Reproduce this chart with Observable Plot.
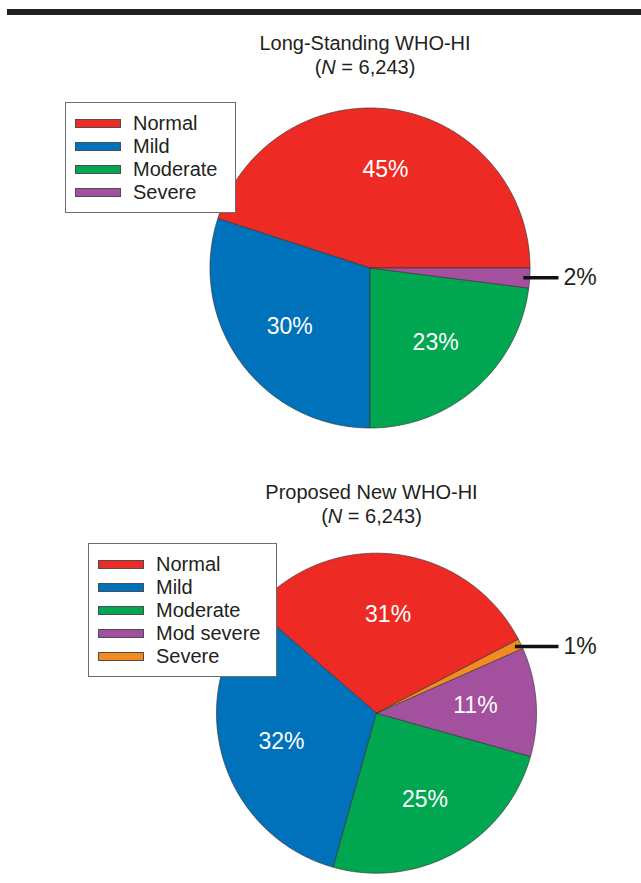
<!DOCTYPE html>
<html><head><meta charset="utf-8">
<script src="https://cdn.jsdelivr.net/npm/d3@7"></script>
<script src="https://cdn.jsdelivr.net/npm/@observablehq/plot@0.6"></script>
<style>
body{margin:0;background:#fff;font-family:"Liberation Sans",Arial,Helvetica,sans-serif;color:#231f20}
#page{position:relative;width:641px;height:883px;overflow:hidden}
.rule{position:absolute;left:7px;top:9px;width:634px;height:6px;background:#231f20}
.title{position:absolute;width:320px;text-align:center;font-size:20px;line-height:24px;white-space:nowrap}
.chart{position:absolute;left:0}
.legend{position:absolute;background:#fff;border:1px solid #6d6e71;box-sizing:border-box;padding:9px 0 0 9px}
.legend .row{display:flex;align-items:center;height:23px;font-size:20px;line-height:23px;white-space:nowrap}
.legend .sw{width:46px;height:9px;box-sizing:border-box;border:1px solid #4d4d4f;margin-right:12px;flex:none}
</style></head><body><div id="page"><div class="rule"></div></div>
<script>
// ---- data ----
const sampleSize = "6,243";
const title1 = "Long-Standing WHO-HI";
const categories1 = ["Normal", "Mild", "Moderate", "Severe"];
const values1 = [45, 30, 23, 2];
const colors1 = ["#ed2a24", "#0071bb", "#00a650", "#a3519f"];

const title2 = "Proposed New WHO-HI";
const categories2 = ["Normal", "Mild", "Moderate", "Mod severe", "Severe"];
const values2 = [31, 32, 25, 11, 1];
const colors2 = ["#ed2a24", "#0071bb", "#00a650", "#a3519f", "#f58a23"];

// ---- layout ----
const R = 160;
const LEADER_END = 558; // page x where the callout leader line ends
const page = document.getElementById("page");
const FONT = '"Liberation Sans", Arial, Helvetica, sans-serif';

function makePie(cfg) {
  const {title, categories, values, colors, top, H, cx, cy, startDeg, legend, titleX, titleTop} = cfg;
  const rows = categories.map((c, i) => ({category: c, value: values[i]}));
  const a0 = Math.PI / 2 - startDeg * Math.PI / 180;
  const arcs = d3.pie().sort(null).value(d => d.value).startAngle(a0).endAngle(a0 - 2 * Math.PI)(rows);
  const xEnd = (LEADER_END - cx) / R;

  const poly = [];
  const inside = [];
  const outside = [];
  arcs.forEach(a => {
    const t0 = Math.PI / 2 - a.startAngle, t1 = Math.PI / 2 - a.endAngle;
    const n = Math.max(4, Math.ceil(Math.abs(t1 - t0) * 180 / Math.PI * 2));
    const cat = a.data.category;
    poly.push({category: cat, x: 0, y: 0});
    for (let k = 0; k <= n; k++) {
      const t = t0 + (t1 - t0) * k / n;
      poly.push({category: cat, x: Math.cos(t), y: Math.sin(t)});
    }
    poly.push({category: cat, x: 0, y: 0});
    const tm = (t0 + t1) / 2;
    const label = a.data.value + "%";
    if (a.data.value >= 5) {
      inside.push({x: 0.62 * Math.cos(tm), y: 0.62 * Math.sin(tm), label});
    } else {
      const y = 0.96 * Math.sin(tm);
      outside.push({x1: 0.96 * Math.cos(tm), y1: y, x2: xEnd, y2: y, tx: xEnd + 5 / R, label});
    }
  });

  const chart = Plot.plot({
    width: 641, height: H, margin: 0,
    style: {fontFamily: FONT, background: "transparent", overflow: "visible"},
    x: {type: "linear", domain: [-cx / R, (641 - cx) / R], range: [0, 641], axis: null},
    y: {type: "linear", domain: [cy / R, (cy - H) / R], range: [0, H], axis: null},
    color: {domain: categories, range: colors},
    marks: [
      Plot.line(poly, {x: "x", y: "y", z: "category", fill: "category", stroke: "#3a3a3a", strokeWidth: 0.7, strokeLinejoin: "round", curve: "linear"}),
      Plot.text(inside, {x: "x", y: "y", text: "label", fill: "white", fontSize: 23}),
      Plot.link(outside, {x1: "x1", y1: "y1", x2: "x2", y2: "y2", stroke: "#111", strokeWidth: 3.5}),
      Plot.text(outside, {x: "tx", y: "y2", text: "label", fill: "#231f20", fontSize: 23, textAnchor: "start"})
    ]
  });
  chart.classList.add("chart");
  chart.style.top = top + "px";
  page.appendChild(chart);

  const t = document.createElement("div");
  t.className = "title";
  t.style.left = (titleX - 160) + "px";
  t.style.top = titleTop + "px";
  t.innerHTML = `${title}<br>(<i>N</i> = ${sampleSize})`;
  page.appendChild(t);

  const lg = document.createElement("div");
  lg.className = "legend";
  Object.assign(lg.style, {left: legend.left + "px", top: legend.top + "px", width: legend.width + "px", height: legend.height + "px"});
  categories.forEach((c, i) => {
    const row = document.createElement("div");
    row.className = "row";
    const sw = document.createElement("span");
    sw.className = "sw";
    sw.style.background = colors[i];
    const tx = document.createElement("span");
    tx.textContent = c;
    row.appendChild(sw); row.appendChild(tx);
    lg.appendChild(row);
  });
  page.appendChild(lg);
}

makePie({title: title1, categories: categories1, values: values1, colors: colors1,
  top: 90, H: 355, cx: 369.5, cy: 177.5, startDeg: 0,
  legend: {left: 65, top: 102, width: 171, height: 111}, titleX: 365, titleTop: 30.8});

makePie({title: title2, categories: categories2, values: values2, colors: colors2,
  top: 535, H: 348, cx: 376, cy: 177.7, startDeg: 27.5,
  legend: {left: 88, top: 543, width: 189, height: 134}, titleX: 371.5, titleTop: 480});
</script></body></html>
